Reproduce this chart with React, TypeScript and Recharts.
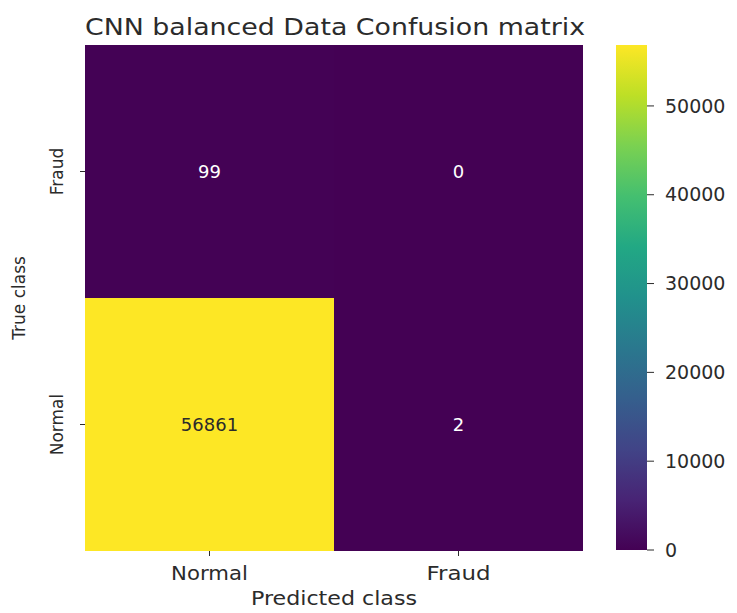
import React from 'react';
import {
  BarChart,
  Bar,
  Cell,
  XAxis,
  YAxis,
  LabelList,
} from 'recharts';

// confusion matrix values (rows = true class, columns = predicted class)
const predictedClasses = ['Normal', 'Fraud'];
const trueClasses = ['Normal', 'Fraud'];
const trueNormalCounts = [56861, 2];
const trueFraudCounts = [99, 0];
const colorbarTicks = [0, 10000, 20000, 30000, 40000, 50000];

const FONT = '"DejaVu Sans", Verdana, sans-serif';
const TEXT = '#2b2b2b';

// viridis colormap stops
const viridis = [
  '#440154', '#482475', '#414487', '#355f8d', '#2a788e', '#21918c',
  '#22a884', '#44bf70', '#7ad151', '#bddf26', '#fde725',
];

const hexToRgb = (h: string) => [
  parseInt(h.slice(1, 3), 16),
  parseInt(h.slice(3, 5), 16),
  parseInt(h.slice(5, 7), 16),
];

const viridisColor = (t: number) => {
  const v = Math.max(0, Math.min(1, t)) * (viridis.length - 1);
  const i = Math.min(Math.floor(v), viridis.length - 2);
  const f = v - i;
  const a = hexToRgb(viridis[i]);
  const b = hexToRgb(viridis[i + 1]);
  const c = a.map((x, k) => Math.round(x + (b[k] - x) * f));
  return `rgb(${c[0]}, ${c[1]}, ${c[2]})`;
};

const maxCount = Math.max(...trueNormalCounts, ...trueFraudCounts);

// one row per predicted class, each true class stacked as a unit-height cell
const matrixData = predictedClasses.map((p, i) => ({
  predicted: p,
  normalCell: 1,
  fraudCell: 1,
  normalCount: trueNormalCounts[i],
  fraudCount: trueFraudCounts[i],
}));

const colorbarData = [{ name: 'scale', value: maxCount }];

const cellLabel = (props: any) => {
  const { x, y, width, height, value } = props;
  const light = value / maxCount > 0.5;
  return (
    <text
      x={x + width / 2}
      y={y + height / 2}
      textAnchor="middle"
      dominantBaseline="central"
      fontSize={18}
      fontFamily={FONT}
      fill={light ? TEXT : '#ffffff'}
    >
      {value}
    </text>
  );
};

const XTick = (props: any) => {
  const { x, y, payload } = props;
  return (
    <text
      x={x}
      y={y + 22}
      textAnchor="middle"
      fontSize={19}
      fontFamily={FONT}
      fill={TEXT}
      textLength={payload.value.length * 12.8}
      lengthAdjust="spacingAndGlyphs"
    >
      {payload.value}
    </text>
  );
};

const YTick = (props: any) => {
  const { y, payload } = props;
  const label = payload.value < 1 ? trueClasses[0] : trueClasses[1];
  return (
    <text
      x={57}
      y={y}
      transform={`rotate(-90, 57, ${y})`}
      textAnchor="middle"
      dominantBaseline="central"
      fontSize={17}
      fontFamily={FONT}
      fill={TEXT}
    >
      {label}
    </text>
  );
};

const App: React.FC = () => {
  return (
    <div
      style={{
        position: 'absolute',
        left: 0,
        top: 0,
        width: 737,
        height: 613,
        background: '#ffffff',
        fontFamily: FONT,
      }}
    >
      {/* Title */}
      <svg width={737} height={45} style={{ position: 'absolute', left: 0, top: 0 }}>
        <text
          x={335}
          y={35}
          textAnchor="middle"
          fontSize={23}
          fontFamily={FONT}
          fill={TEXT}
          textLength={500}
          lengthAdjust="spacingAndGlyphs"
        >
          CNN balanced Data Confusion matrix
        </text>
      </svg>

      {/* Heatmap */}
      <div style={{ position: 'absolute', left: 0, top: 0 }}>
        <BarChart
          width={600}
          height={613}
          data={matrixData}
          margin={{ top: 45, right: 17, bottom: 0, left: 0 }}
          barCategoryGap={0}
          barGap={0}
        >
          <XAxis
            dataKey="predicted"
            height={62}
            axisLine={false}
            tickLine={{ stroke: TEXT }}
            tickSize={5}
            tick={<XTick />}
            label={{
              content: (p: any) => {
                const vb = p.viewBox;
                return (
                  <text
                    x={vb.x + vb.width / 2}
                    y={605}
                    textAnchor="middle"
                    fontSize={19}
                    fontFamily={FONT}
                    fill={TEXT}
                    textLength={166}
                    lengthAdjust="spacingAndGlyphs"
                  >
                    Predicted class
                  </text>
                );
              },
            }}
          />
          <YAxis
            type="number"
            domain={[0, 2]}
            ticks={[0.5, 1.5]}
            width={85}
            axisLine={false}
            tickLine={{ stroke: TEXT }}
            tickSize={5}
            tick={<YTick />}
            label={{
              content: (p: any) => {
                const vb = p.viewBox;
                const cy = vb.y + vb.height / 2;
                return (
                  <text
                    x={19}
                    y={cy}
                    transform={`rotate(-90, 19, ${cy})`}
                    textAnchor="middle"
                    dominantBaseline="central"
                    fontSize={17}
                    fontFamily={FONT}
                    fill={TEXT}
                  >
                    True class
                  </text>
                );
              },
            }}
          />
          <Bar dataKey="normalCell" stackId="m" isAnimationActive={false}>
            {matrixData.map((d, i) => (
              <Cell key={`n-${i}`} fill={viridisColor(d.normalCount / maxCount)} />
            ))}
            <LabelList dataKey="normalCount" content={cellLabel} />
          </Bar>
          <Bar dataKey="fraudCell" stackId="m" isAnimationActive={false}>
            {matrixData.map((d, i) => (
              <Cell key={`f-${i}`} fill={viridisColor(d.fraudCount / maxCount)} />
            ))}
            <LabelList dataKey="fraudCount" content={cellLabel} />
          </Bar>
        </BarChart>
      </div>

      {/* Colorbar */}
      <div style={{ position: 'absolute', left: 600, top: 0 }}>
        <BarChart
          width={137}
          height={613}
          data={colorbarData}
          margin={{ top: 45, right: 0, bottom: 63, left: 16 }}
          barCategoryGap={0}
        >
          <defs>
            <linearGradient id="viridisGrad" x1="0" y1="1" x2="0" y2="0">
              {viridis.map((c, i) => (
                <stop key={c} offset={`${(i / (viridis.length - 1)) * 100}%`} stopColor={c} />
              ))}
            </linearGradient>
          </defs>
          <XAxis dataKey="name" hide />
          <YAxis
            orientation="right"
            type="number"
            domain={[0, maxCount]}
            ticks={colorbarTicks}
            width={90}
            axisLine={false}
            tickLine={{ stroke: TEXT }}
            tickSize={7}
            tickMargin={11}
            tick={{ fontSize: 19, fontFamily: FONT, fill: TEXT }}
          />
          <Bar dataKey="value" fill="url(#viridisGrad)" isAnimationActive={false} />
        </BarChart>
      </div>
    </div>
  );
};

export default App;
